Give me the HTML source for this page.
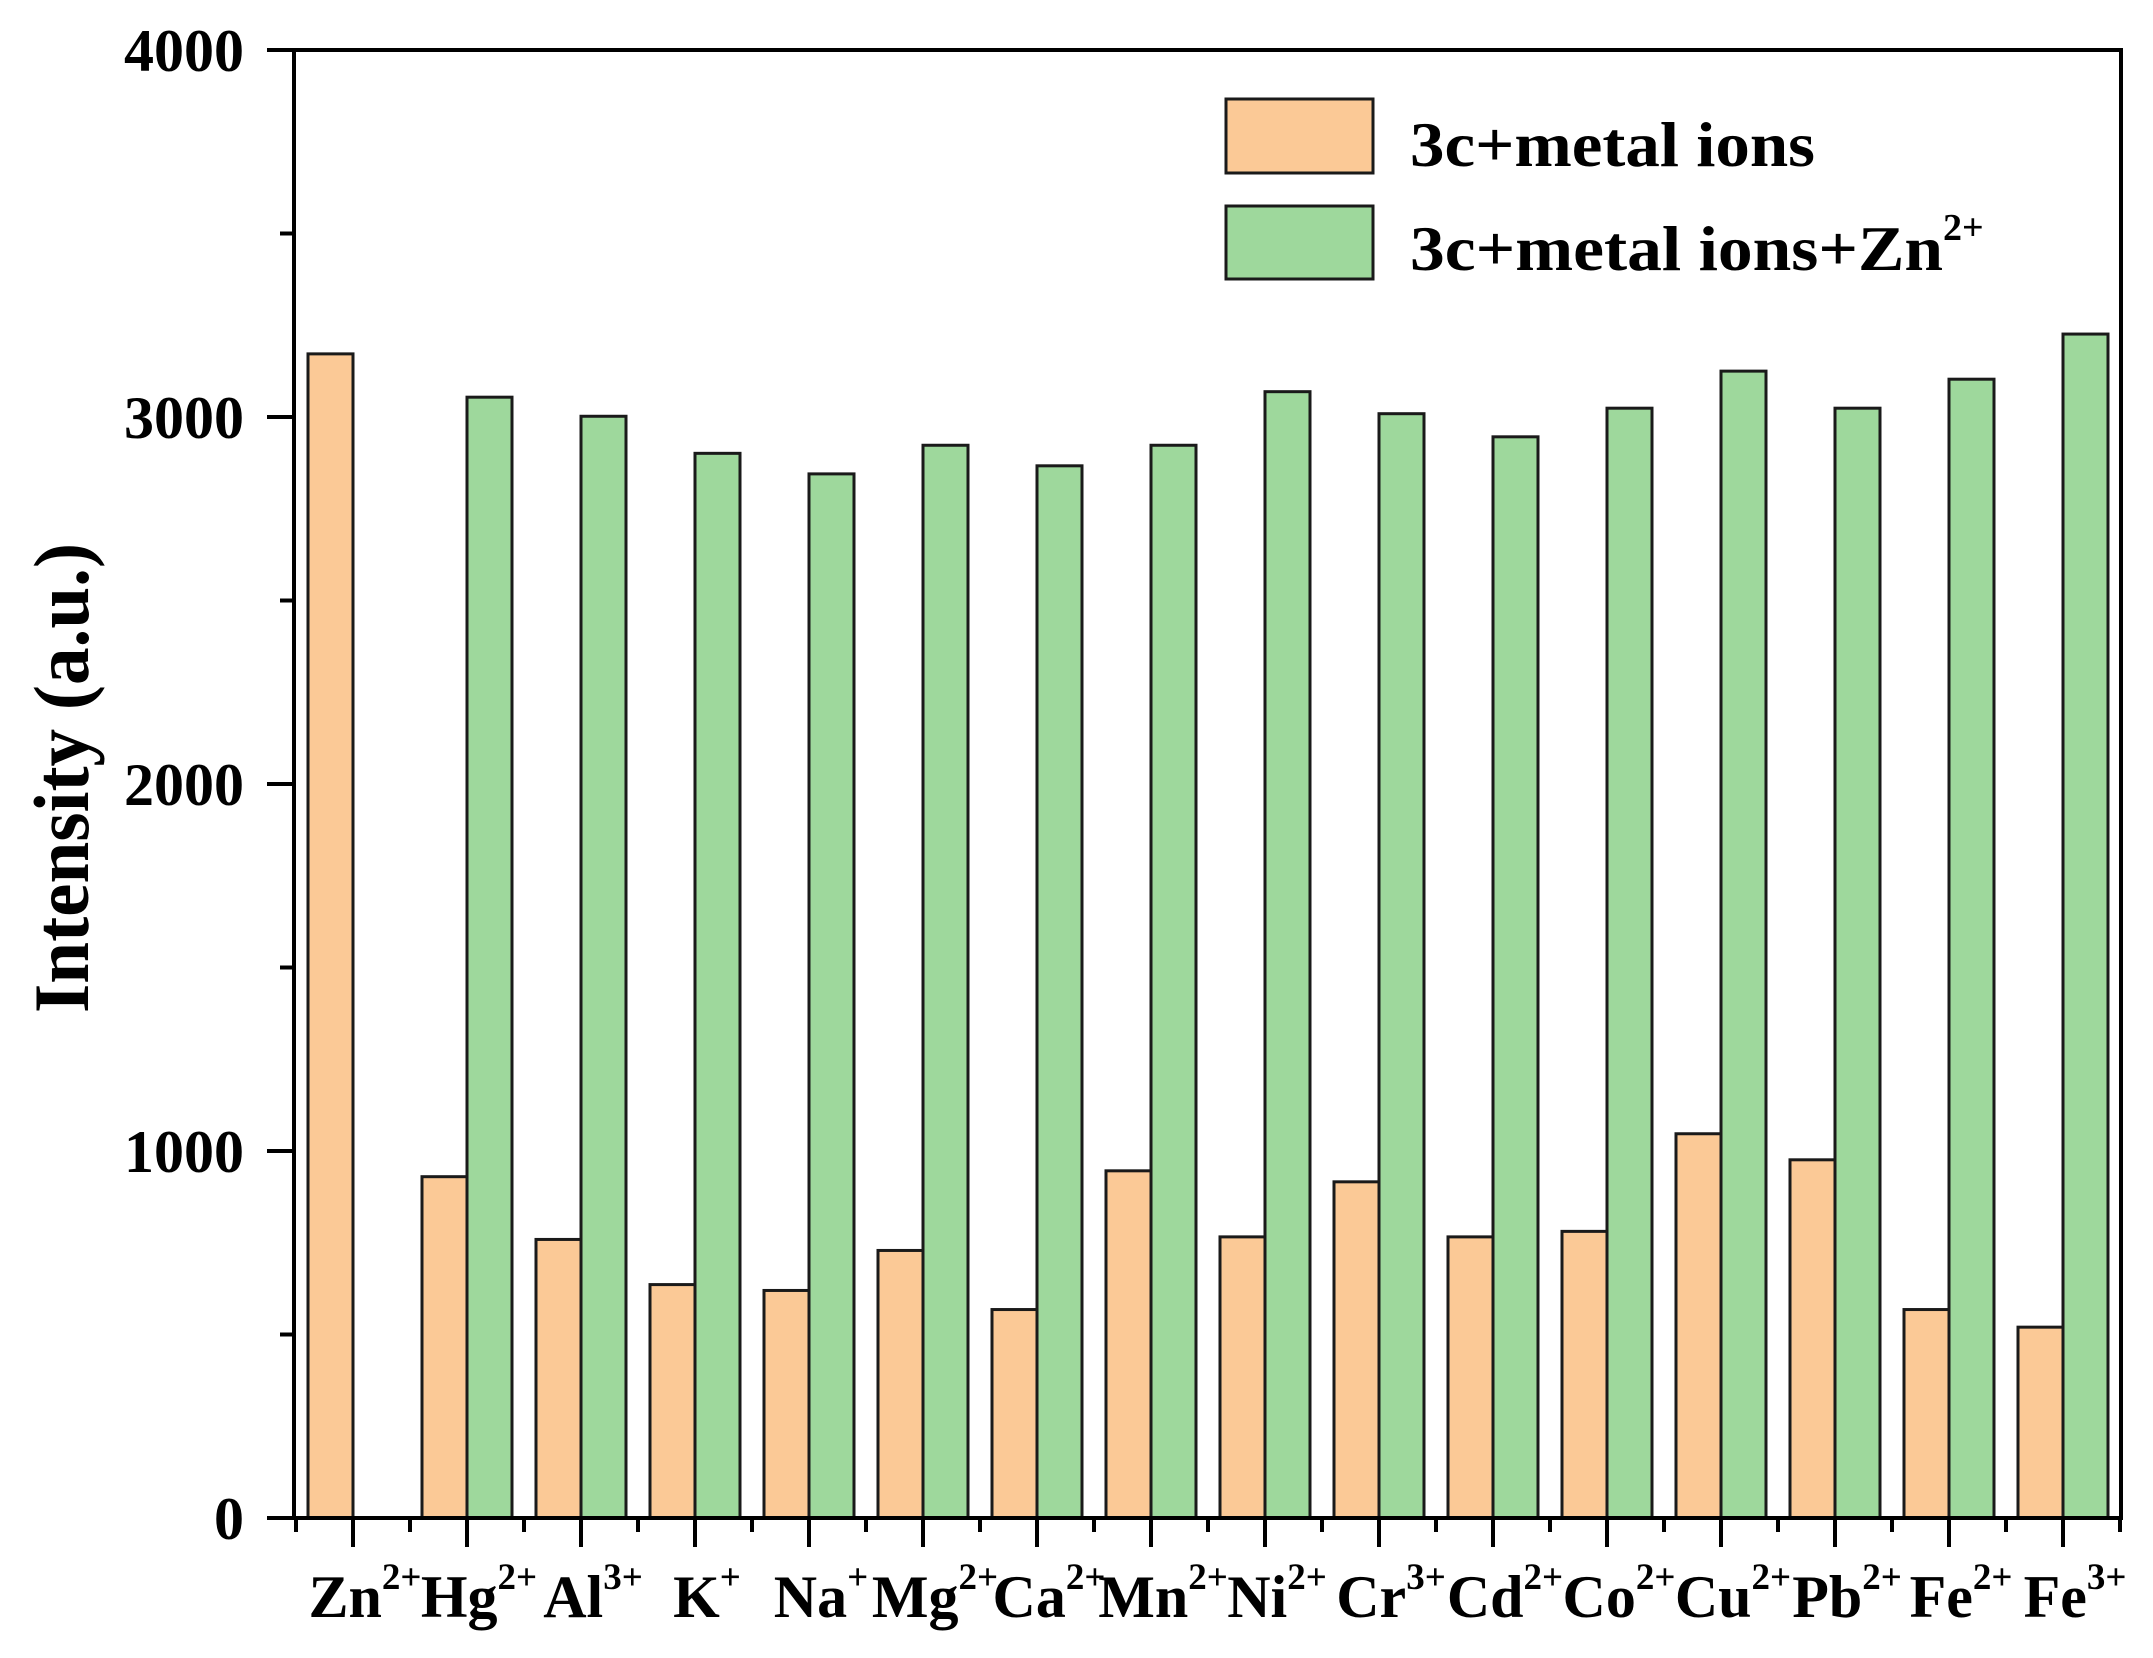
<!DOCTYPE html>
<html><head><meta charset="utf-8"><style>
html,body{margin:0;padding:0;background:#fff;}
svg{display:block;}
text{font-family:"Liberation Serif",serif;font-weight:bold;fill:#000;}
</style></head><body>
<svg width="2153" height="1658" viewBox="0 0 2153 1658" xmlns="http://www.w3.org/2000/svg">
<g id="bars" stroke="#1a1a1a" stroke-width="3"></g>
<g id="axes"></g>
<g id="labels"></g>
<text transform="translate(88,778) rotate(-90)" text-anchor="middle" font-size="78" textLength="470" lengthAdjust="spacingAndGlyphs">Intensity (a.u.)</text>
<rect x="1226" y="99" width="147" height="74" fill="#fbc996" stroke="#1a1a1a" stroke-width="3"/>
<rect x="1226" y="206" width="147" height="73" fill="#9ed89c" stroke="#1a1a1a" stroke-width="3"/>
<text x="1410" y="166" font-size="64" textLength="405" lengthAdjust="spacingAndGlyphs">3c+metal ions</text>
<text x="1410" y="270" font-size="64"><tspan textLength="533" lengthAdjust="spacingAndGlyphs">3c+metal ions+Zn</tspan><tspan dy="-30" font-size="38">2+</tspan></text>
<script>
const NS="http://www.w3.org/2000/svg";
const y0=1518, k=0.367;
const org=[3172,930,759,636,620,729,568,946,766,916,766,781,1047,976,568,520];
const grn=[null,3054,3002,2901,2845,2923,2867,2923,3069,3009,2946,3024,3125,3024,3103,3226];
const names=[["Zn","2+"],["Hg","2+"],["Al","3+"],["K","+"],["Na","+"],["Mg","2+"],["Ca","2+"],["Mn","2+"],["Ni","2+"],["Cr","3+"],["Cd","2+"],["Co","2+"],["Cu","2+"],["Pb","2+"],["Fe","2+"],["Fe","3+"]];
function el(t,a,p){const e=document.createElementNS(NS,t);for(const k in a)e.setAttribute(k,a[k]);p.appendChild(e);return e;}
const B=document.getElementById('bars'),A=document.getElementById('axes'),L=document.getElementById('labels');
for(let i=0;i<16;i++){
 const c=353+i*114;
 let h=org[i]*k; el('rect',{x:c-45,y:y0-h,width:45,height:h,fill:'#fbc996'},B);
 if(grn[i]!=null){h=grn[i]*k; el('rect',{x:c,y:y0-h,width:45,height:h,fill:'#9ed89c'},B);}
 el('line',{x1:c,y1:y0,x2:c,y2:y0+29,stroke:'#000','stroke-width':4},A);
 el('line',{x1:c+57,y1:y0,x2:c+57,y2:y0+14,stroke:'#000','stroke-width':4},A);
 const t=el('text',{x:c+12,y:1617,'font-size':60,'text-anchor':'middle'},L);
 t.appendChild(document.createTextNode(names[i][0]));
 const s=el('tspan',{dy:-28,'font-size':37},t); s.appendChild(document.createTextNode(names[i][1]));
}
el('line',{x1:296,y1:y0,x2:296,y2:y0+14,stroke:'#000','stroke-width':4},A);
el('rect',{x:294,y:50,width:1827,height:1468,fill:'none',stroke:'#000','stroke-width':4},A);
for(let v=0;v<=4000;v+=500){
 const y=y0-v*k, maj=v%1000==0;
 el('line',{x1:294,y1:y,x2:maj?267:280,y2:y,stroke:'#000','stroke-width':4},A);
 if(maj){const t=el('text',{x:244,y:y+21,'font-size':60,'text-anchor':'end'},L);t.appendChild(document.createTextNode(String(v)));}
}
</script>
</svg>
</body></html>
